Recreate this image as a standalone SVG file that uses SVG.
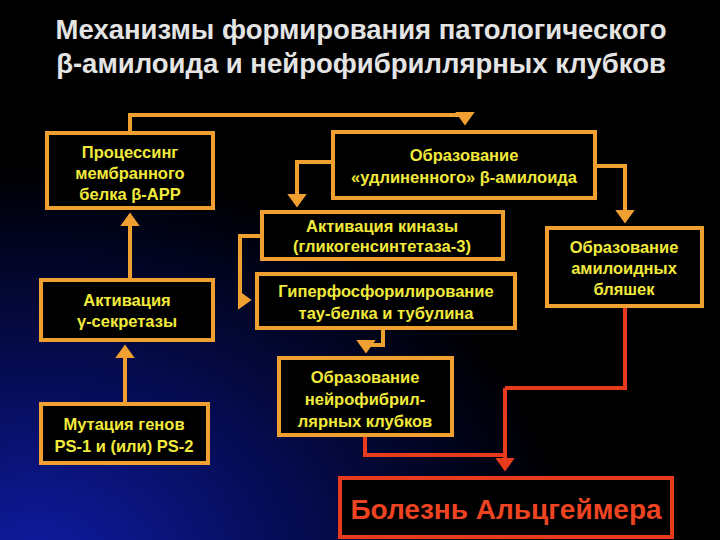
<svg xmlns="http://www.w3.org/2000/svg" width="720" height="540" viewBox="0 0 720 540">
<defs>
<radialGradient id="bg" cx="0.05" cy="1.05" r="0.75">
<stop offset="0" stop-color="#1a2cff"/><stop offset="0.45" stop-color="#0a1488"/><stop offset="1" stop-color="#000000"/>
</radialGradient>
<marker id="ao" markerWidth="5" markerHeight="5" refX="2.6" refY="2.5" orient="auto" markerUnits="strokeWidth"><path d="M0,0 L3.5,2.5 L0,5 Z" fill="#f0a030"/></marker>
<marker id="ar" markerWidth="5" markerHeight="5" refX="2.6" refY="2.5" orient="auto" markerUnits="strokeWidth"><path d="M0,0 L3.5,2.5 L0,5 Z" fill="#e83a1c"/></marker>
</defs>
<style>
.b{fill:#000;stroke:#f0a030;stroke-width:4}
.t{font-family:"Liberation Sans",Arial,sans-serif;font-weight:bold;font-size:16.5px;fill:#f2ea3a;text-anchor:middle}
.c{fill:none;stroke:#f0a030;stroke-width:4;marker-end:url(#ao)}
.r{fill:none;stroke:#e83a1c;stroke-width:4}
</style>
<rect width="720" height="540" fill="url(#bg)"/>
<rect width="720" height="540" fill="#000" opacity="0.35"/>
<g font-family="Liberation Sans,Arial,sans-serif" font-weight="bold" font-size="27.5" fill="#e4e4e4" text-anchor="middle">
<text x="361" y="39">Механизмы формирования патологического</text>
<text x="361" y="73">β-амилоида и нейрофибриллярных клубков</text>
</g>
<g id="connectors">
<path class="c" d="M130,133 V115 H465 V122"/>
<path class="c" d="M333,162 H297 V204"/>
<path class="c" d="M595,166 H625 V220"/>
<path class="c" d="M262,236 H240 V300 H248"/>
<path class="c" d="M383,328 V345 H366 V350"/>
<path class="c" d="M130,280 V216"/>
<path class="c" d="M125,404 V348"/>
<path class="r" d="M365,435 V455 H505"/>
<path class="r" d="M625,306 V388 H505" />
<path class="r" d="M505,388 V468" marker-end="url(#ar)"/>
</g>
<g id="n1"><rect class="b" x="47" y="133" width="166" height="75"/>
<text class="t" x="130" y="158">Процессинг</text><text class="t" x="130" y="179">мембранного</text><text class="t" x="130" y="200">белка β-APP</text></g>
<g id="n2"><rect class="b" x="333" y="132" width="262" height="66"/>
<text class="t" x="464" y="161">Образование</text><text class="t" x="464" y="183">«удлиненного» β-амилоида</text></g>
<g id="n3"><rect class="b" x="262" y="212" width="241" height="47"/>
<text class="t" x="382" y="232">Активация киназы</text><text class="t" x="382" y="252">(гликогенсинтетаза-3)</text></g>
<g id="n4"><rect class="b" x="257" y="274" width="258" height="54"/>
<text class="t" x="386" y="297">Гиперфосфорилирование</text><text class="t" x="386" y="319">тау-белка и тубулина</text></g>
<g id="n5"><rect class="b" x="279" y="358" width="173" height="77"/>
<text class="t" x="365" y="383">Образование</text><text class="t" x="365" y="405">нейрофибрил-</text><text class="t" x="365" y="427">лярных клубков</text></g>
<g id="n6"><rect class="b" x="547" y="228" width="155" height="78"/>
<text class="t" x="624" y="253">Образование</text><text class="t" x="624" y="274">амилоидных</text><text class="t" x="624" y="295">бляшек</text></g>
<g id="n7"><rect class="b" x="41" y="280" width="172" height="60"/>
<text class="t" x="127" y="306">Активация</text><text class="t" x="127" y="327">γ-секретазы</text></g>
<g id="n8"><rect class="b" x="41" y="404" width="167" height="59"/>
<text class="t" x="124" y="430">Мутация генов</text><text class="t" x="124" y="452">PS-1 и (или) PS-2</text></g>
<g id="n9"><rect x="340" y="478" width="332" height="59" fill="#000" stroke="#e83a1c" stroke-width="4"/>
<text x="506" y="519" font-family="Liberation Sans,Arial,sans-serif" font-weight="bold" font-size="28" fill="#ee4422" text-anchor="middle">Болезнь Альцгеймера</text></g>
</svg>
